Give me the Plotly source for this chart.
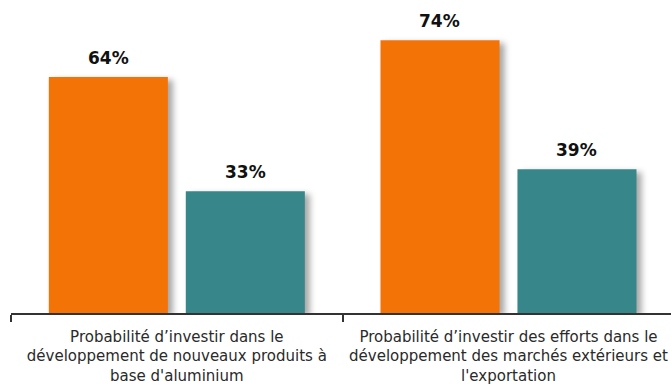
import plotly.graph_objects as go

# Survey results: two questions, two respondent groups
categories = [
    "Probabilité d’investir dans le<br>développement de nouveaux produits à<br>base d'aluminium",
    "Probabilité d’investir des efforts dans le<br>développement des marchés extérieurs et<br>l'exportation",
]
group_a = [64, 74]
group_b = [33, 39]

ORANGE = "#F47306"
TEAL = "#37868A"

fig = go.Figure()
series = [("Groupe A", group_a, ORANGE, -68.5), ("Groupe B", group_b, TEAL, 68.5)]
for name, vals, color, dx in series:
    fig.add_trace(go.Bar(
        x=categories,
        y=vals,
        name=name,
        marker=dict(color=color, line=dict(width=0)),
        hoverinfo="skip",
    ))
    # value labels above each bar
    for cat, v in zip(categories, vals):
        fig.add_annotation(
            x=cat, y=v, text=f"{v}%",
            showarrow=False,
            xanchor="center", yanchor="bottom",
            xshift=dx, yshift=7,
            font=dict(family="DejaVu Sans", size=17, color="#111111", weight="bold"),
        )

fig.update_layout(
    width=671,
    height=387,
    margin=dict(l=11, r=0, t=18, b=74),
    paper_bgcolor="white",
    plot_bgcolor="white",
    showlegend=False,
    barmode="group",
    bargap=0.174,
    bargroupgap=0.131,
    font=dict(family="DejaVu Sans", size=15, color="#2a2a2a"),
)
fig.update_xaxes(
    type="category",
    range=[-0.5, 1.49],
    showline=True,
    linecolor="#333333",
    linewidth=1.5,
    ticks="outside",
    tickson="boundaries",
    ticklen=7,
    tickcolor="#333333",
    tickwidth=1.5,
    showgrid=False,
    ticklabelstandoff=9,
    tickfont=dict(family="DejaVu Sans", size=15, color="#2a2a2a"),
)
fig.update_yaxes(
    range=[0, 80],
    visible=False,
    showgrid=False,
    zeroline=False,
)

# Soft drop shadow on the bars
shadow_css = """
var s = document.createElement('style');
s.textContent = '.barlayer .point path { filter: drop-shadow(5px 3px 3px rgba(0,0,0,0.35)); }';
document.head.appendChild(s);
"""

fig.write_html("out.html", post_script=shadow_css)
